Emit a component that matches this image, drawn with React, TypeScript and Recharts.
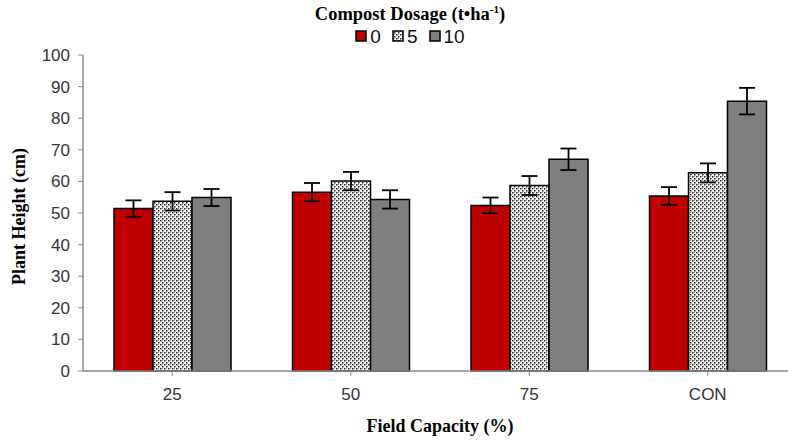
import { BarChart, Bar, XAxis, YAxis, ErrorBar } from "recharts";

const capacities = ["25", "50", "75", "CON"];
const dose0 = [51.4, 56.6, 52.4, 55.4];
const dose5 = [53.7, 60.1, 58.7, 62.7];
const dose10 = [54.9, 54.3, 67.0, 85.4];
const err0 = [2.6, 2.9, 2.5, 2.8];
const err5 = [2.9, 2.9, 3.0, 3.0];
const err10 = [2.7, 2.9, 3.4, 4.2];
const yTicks = [0, 10, 20, 30, 40, 50, 60, 70, 80, 90, 100];
const legendItems = [
  { label: "0", fill: "#c00000" },
  { label: "5", fill: "url(#checkerLegend)" },
  { label: "10", fill: "#7f7f7f" },
];

const data = capacities.map((name, i) => ({
  name,
  d0: dose0[i],
  d5: dose5[i],
  d10: dose10[i],
  e0: err0[i],
  e5: err5[i],
  e10: err10[i],
}));

const serif = "'Liberation Serif', 'Times New Roman', serif";
const sans = "'Liberation Sans', Arial, sans-serif";

const CheckerPattern = ({ id }: { id: string }) => (
  <pattern id={id} width={4} height={4} patternUnits="userSpaceOnUse">
    <rect width={4} height={4} fill="#fff" />
    <rect x={0} y={0} width={1.5} height={1.5} fill="#222" />
    <rect x={2} y={2} width={1.5} height={1.5} fill="#222" />
    <rect x={2} y={0} width={1} height={1} fill="#999" />
  </pattern>
);

const LegendBox = () => (
  <div
    style={{
      position: "absolute",
      left: 0,
      top: 4,
      width: 820,
      textAlign: "center",
      fontFamily: serif,
      lineHeight: 1,
      pointerEvents: "none",
    }}
  >
    <div style={{ fontWeight: "bold", fontSize: 18.5, color: "#000" }}>
      Compost Dosage (t•ha<sup style={{ fontSize: 11 }}>-1</sup>)
    </div>
    <div
      style={{
        display: "flex",
        justifyContent: "center",
        gap: 11,
        marginTop: 3,
        fontFamily: sans,
        fontSize: 19,
        color: "#111",
      }}
    >
      {legendItems.map((it) => (
        <span key={it.label} style={{ display: "flex", alignItems: "center", gap: 3 }}>
          <svg width={12} height={12}>
            <defs>
              <CheckerPattern id="checkerLegend" />
            </defs>
            <rect x={1} y={1} width={10} height={10} fill={it.fill} stroke="#000" strokeWidth={1.5} />
          </svg>
          {it.label}
        </span>
      ))}
    </div>
  </div>
);

export default function App() {
  return (
    <div
      style={{
        position: "absolute",
        left: 0,
        top: 0,
        width: 788,
        height: 440,
        overflow: "hidden",
        background: "#fff",
      }}
    >
      <BarChart
        width={800}
        height={440}
        data={data}
        margin={{ top: 55, right: 3, left: 0, bottom: 0 }}
        barGap={0}
        barCategoryGap={31}
      >
        <defs>
          <CheckerPattern id="checker" />
        </defs>
        <XAxis
          dataKey="name"
          height={69}
          axisLine={{ stroke: "#8c8c8c", strokeWidth: 1.5 }}
          tickLine={{ stroke: "#8c8c8c" }}
          tickSize={5}
          tick={{ fill: "#333", fontSize: 17, fontFamily: sans, dy: 10 }}
          label={{
            value: "Field Capacity (%)",
            position: "insideBottom",
            offset: 8,
            fill: "#000",
            fontSize: 18,
            fontWeight: "bold",
            fontFamily: serif,
          }}
        />
        <YAxis
          width={83}
          domain={[0, 100]}
          ticks={yTicks}
          interval={0}
          axisLine={{ stroke: "#8c8c8c", strokeWidth: 1.5 }}
          tickLine={{ stroke: "#8c8c8c" }}
          tickSize={5}
          tick={{ fill: "#333", fontSize: 17, fontFamily: sans, dx: -6 }}
          label={{
            value: "Plant Height (cm)",
            angle: -90,
            position: "insideLeft",
            dx: 14,
            dy: 72,
            fill: "#000",
            fontSize: 18,
            fontWeight: "bold",
            fontFamily: serif,
          }}
        />
        <Bar dataKey="d0" fill="#c00000" stroke="#000" strokeWidth={1.5} isAnimationActive={false}>
          <ErrorBar dataKey="e0" width={8} stroke="#000" strokeWidth={1.8} />
        </Bar>
        <Bar dataKey="d5" fill="url(#checker)" stroke="#000" strokeWidth={1.5} isAnimationActive={false}>
          <ErrorBar dataKey="e5" width={8} stroke="#000" strokeWidth={1.8} />
        </Bar>
        <Bar dataKey="d10" fill="#7f7f7f" stroke="#000" strokeWidth={1.5} isAnimationActive={false}>
          <ErrorBar dataKey="e10" width={8} stroke="#000" strokeWidth={1.8} />
        </Bar>
      </BarChart>
      <LegendBox />
    </div>
  );
}
